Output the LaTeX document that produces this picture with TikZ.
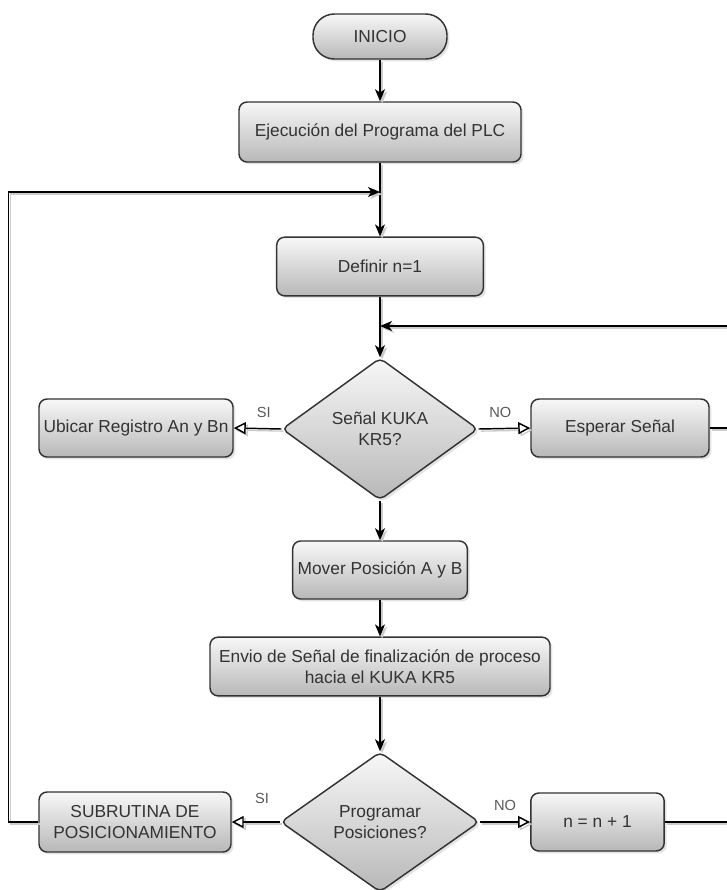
\documentclass[tikz,border=0pt]{standalone}
\usepackage{fontspec}
\setmainfont{Liberation Sans}
\usetikzlibrary{shapes.geometric,arrows.meta,shadows}

\tikzset{
	sombra/.style={preaction={draw=black!20, line width=1pt, transform canvas={xshift=1.6pt,yshift=-1.6pt}}},
	caja/.style={draw=black!80, line width=1.1pt, rounded corners=6pt, top color=black!3, bottom color=black!28,
		drop shadow={shadow xshift=1.8pt, shadow yshift=-1.8pt, opacity=0.22},
		text=black!80, font=\fontsize{13}{15.5}\selectfont, align=center, inner sep=1pt},
	decision/.style={caja, diamond, aspect=1.38, rounded corners=4pt},
	flecha/.style={sombra, line width=1.1pt, -{Stealth[length=9pt,width=7.5pt,inset=2.5pt]}},
	rama/.style={sombra, line width=1.1pt, -{Triangle[open,fill=white,length=9pt,width=9pt]}},
	linea/.style={sombra, line width=1.1pt},
	etiqueta/.style={font=\fontsize{11}{12}\selectfont, text=black!65}
}

\begin{document}
\begin{tikzpicture}[x=0.75pt,y=-0.75pt]
	\useasboundingbox (0,0) rectangle (726,890);

	% columna principal
	\node[caja, rounded corners=16pt, minimum width=100.5pt, minimum height=33.75pt] (inicio) at (380,36.5) {INICIO};
	\node[caja, minimum width=211.5pt, minimum height=45pt] (ejecucion) at (380,132) {Ejecución del Programa del PLC};
	\node[caja, minimum width=155pt, minimum height=44pt] (definir) at (380,266.5) {Definir n=1};
	\node[decision, minimum width=147pt, minimum height=106.5pt] (senal) at (380,429) {Señal KUKA\\KR5?};
	\node[caja, minimum width=131pt, minimum height=43.5pt] (mover) at (380,570) {Mover Posición A y B};
	\node[caja, minimum width=255pt, minimum height=44pt] (envio) at (380,666.5) {Envio de Señal de finalización de proceso\\hacia el KUKA KR5};
	\node[decision, minimum width=149pt, minimum height=105pt] (programar) at (380,822) {Programar\\Posiciones?};

	% ramas laterales
	\node[caja, minimum width=145.5pt, minimum height=43.5pt] (ubicar) at (136,428) {Ubicar Registro An y Bn};
	\node[caja, minimum width=133.5pt, minimum height=43.5pt] (esperar) at (620,428) {Esperar Señal};
	\node[caja, minimum width=144pt, minimum height=45pt] (subrutina) at (135,822) {SUBRUTINA DE\\POSICIONAMIENTO};
	\node[caja, minimum width=100pt, minimum height=43.5pt] (incremento) at (597.5,822) {n = n + 1};

	\coordinate (union1) at (380,192);
	\coordinate (union2) at (380,326);
	\coordinate (derecha) at (749,428);

	\draw[flecha] (inicio) -- (ejecucion);
	\draw[flecha] (ejecucion) -- (definir);
	\draw[flecha] (definir) -- (senal);
	\draw[flecha] (senal) -- (mover);
	\draw[flecha] (mover) -- (envio);
	\draw[flecha] (envio) -- (programar);

	\draw[rama] (senal.west) -- node[etiqueta, pos=0.37, above=4pt]{SI} (ubicar.east);
	\draw[rama] (senal.east) -- node[etiqueta, pos=0.42, above=4pt]{NO} (esperar.west);
	\draw[rama] (programar.west) -- node[etiqueta, pos=0.37, above=10pt]{SI} (subrutina.east);
	\draw[rama] (programar.east) -- node[etiqueta, pos=0.5, above=5pt]{NO} (incremento.west);

	% lazos de retorno
	\draw[flecha] (subrutina.west) -- ++(-30,0) |- (union1);
	\draw[flecha] (esperar.east) -- (derecha) |- (union2);
	\draw[linea] (incremento.east) -| (derecha);
\end{tikzpicture}
\end{document}
